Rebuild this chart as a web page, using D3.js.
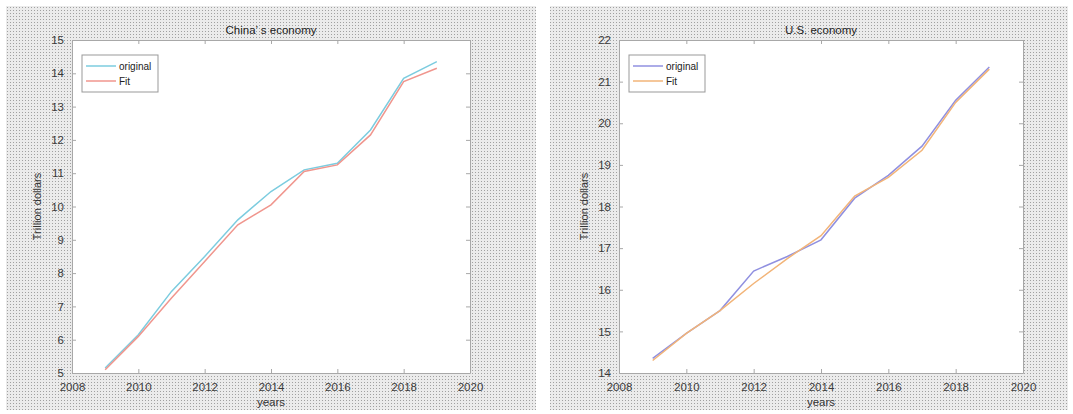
<!DOCTYPE html>
<html><head><meta charset="utf-8">
<script src="https://cdn.jsdelivr.net/npm/d3@7"></script>
<style>body{margin:0;background:#fff}svg{display:block}text{font-family:"Liberation Sans",Arial,sans-serif}</style>
</head><body><svg id="c" width="1073" height="414"></svg>
<script>
const years = [2009,2010,2011,2012,2013,2014,2015,2016,2017,2018,2019];
const chinaOriginal = [5.15,6.15,7.45,8.5,9.6,10.45,11.1,11.3,12.3,13.85,14.35];
const chinaFit = [5.1,6.1,7.25,8.35,9.45,10.05,11.05,11.25,12.15,13.75,14.15];
const usOriginal = [14.35,14.95,15.5,16.45,16.8,17.2,18.2,18.75,19.45,20.55,21.35];
const usFit = [14.3,14.95,15.5,16.15,16.75,17.3,18.25,18.7,19.35,20.5,21.3];
const xTicks = [2008,2010,2012,2014,2016,2018,2020];
const chinaYTicks = [5,6,7,8,9,10,11,12,13,14,15];
const usYTicks = [14,15,16,17,18,19,20,21,22];

const svg = d3.select("#c");
const defs = svg.append("defs");
const pat = defs.append("pattern").attr("id","tex").attr("width",3).attr("height",3).attr("patternUnits","userSpaceOnUse");
pat.append("rect").attr("width",3).attr("height",3).attr("fill","#ebebeb");
pat.append("rect").attr("x",1).attr("y",1).attr("width",1).attr("height",1).attr("fill","#a0a0a0");

function panel(cfg){
  const g = svg.append("g");
  g.append("rect").attr("x",cfg.px).attr("y",6).attr("width",cfg.pw).attr("height",404).attr("fill","url(#tex)");
  const x = d3.scaleLinear().domain([2008,2020]).range([cfg.x0,cfg.x1]);
  const y = d3.scaleLinear().domain(cfg.ydom).range([373,40]);
  g.append("rect").attr("x",cfg.x0).attr("y",40).attr("width",cfg.x1-cfg.x0).attr("height",333).attr("fill","#fff");
  const ax = g.append("g").attr("transform","translate(0,373)").call(d3.axisBottom(x).tickValues(xTicks).tickFormat(d3.format("d")).tickSizeInner(-4).tickSizeOuter(0).tickPadding(10));
  const axT = g.append("g").attr("transform","translate(0,40)").call(d3.axisTop(x).tickValues(xTicks).tickFormat("").tickSizeInner(-4).tickSizeOuter(0));
  const ay = g.append("g").attr("transform",`translate(${cfg.x0},0)`).call(d3.axisLeft(y).tickValues(cfg.yt).tickSizeInner(-4).tickSizeOuter(0).tickPadding(8));
  const ayR = g.append("g").attr("transform",`translate(${cfg.x1},0)`).call(d3.axisRight(y).tickValues(cfg.yt).tickFormat("").tickSizeInner(-4).tickSizeOuter(0));
  [ax,axT,ay,ayR].forEach(a=>{
    a.select(".domain").attr("stroke","#a8a8a8");
    a.selectAll(".tick line").attr("stroke","#a8a8a8");
    a.selectAll(".tick text").attr("fill","#3a3a3a").attr("font-size",11.5);
  });
  const line = d3.line().x((d,i)=>x(years[i])).y(d=>y(d));
  g.append("path").datum(cfg.orig).attr("d",line).attr("fill","none").attr("stroke",cfg.c1).attr("stroke-width",1.5);
  g.append("path").datum(cfg.fit).attr("d",line).attr("fill","none").attr("stroke",cfg.c2).attr("stroke-width",1.5);
  g.append("text").attr("x",(cfg.x0+cfg.x1)/2).attr("y",34).attr("text-anchor","middle").attr("font-size",11.5).attr("fill","#222").text(cfg.title);
  g.append("text").attr("x",(cfg.x0+cfg.x1)/2).attr("y",406).attr("text-anchor","middle").attr("font-size",11.5).attr("fill","#333").text("years");
  g.append("text").attr("transform",`translate(${cfg.x0-31},${(40+373)/2}) rotate(-90)`).attr("text-anchor","middle").attr("font-size",11).attr("fill","#333").text("Trillion dollars");
  const lx = cfg.x0+10, ly = 55;
  g.append("rect").attr("x",lx).attr("y",ly).attr("width",76).attr("height",37).attr("fill","#fff").attr("stroke","#999").attr("stroke-width",1);
  g.append("line").attr("x1",lx+4).attr("x2",lx+34).attr("y1",ly+11).attr("y2",ly+11).attr("stroke",cfg.c1).attr("stroke-width",1.5);
  g.append("line").attr("x1",lx+4).attr("x2",lx+34).attr("y1",ly+26).attr("y2",ly+26).attr("stroke",cfg.c2).attr("stroke-width",1.5);
  g.append("text").attr("x",lx+37).attr("y",ly+15).attr("font-size",10).attr("fill","#222").text("original");
  g.append("text").attr("x",lx+37).attr("y",ly+30).attr("font-size",10).attr("fill","#222").text("Fit");
}
panel({px:6,pw:530,x0:72,x1:470,ydom:[5,15],yt:chinaYTicks,orig:chinaOriginal,fit:chinaFit,c1:"#7cccdf",c2:"#f0968e",title:"China’ s economy"});
panel({px:550,pw:518,x0:619,x1:1023,ydom:[14,22],yt:usYTicks,orig:usOriginal,fit:usFit,c1:"#9090e0",c2:"#f2b478",title:"U.S. economy"});
</script></body></html>
